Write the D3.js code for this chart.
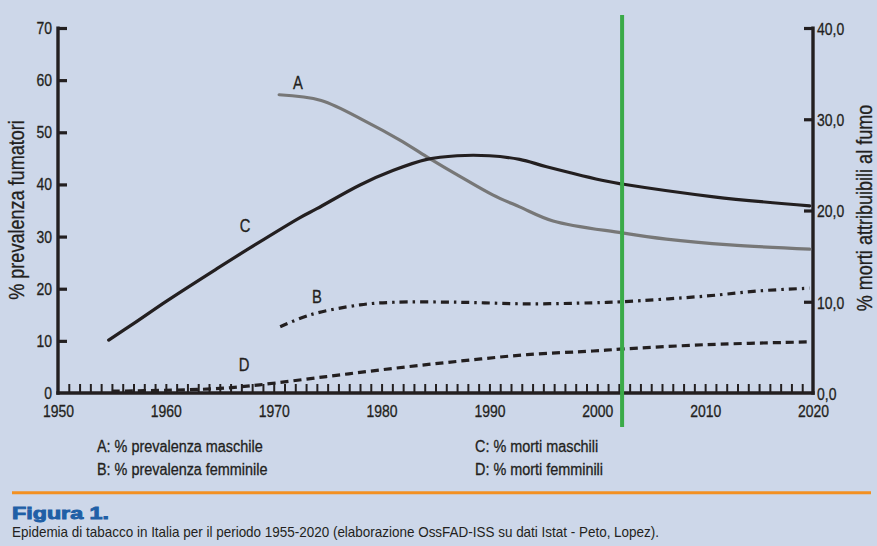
<!DOCTYPE html>
<html>
<head>
<meta charset="utf-8">
<script src="https://cdn.jsdelivr.net/npm/d3@7/dist/d3.min.js"></script>
<style>
  html, body { margin: 0; padding: 0; background: #CDD7E9; }
  svg { display: block; }
  svg text { font-family: "Liberation Sans", Arial, sans-serif; }
</style>
</head>
<body>
<svg id="chart" width="877" height="546"></svg>
<script>
// ---------- DATA ----------
const xTickYears = [1950, 1960, 1970, 1980, 1990, 2000, 2010, 2020];
const leftTicks = [0, 10, 20, 30, 40, 50, 60, 70];
const leftTickLabels = ["0", "10", "20", "30", "40", "50", "60", "70"];
const rightTicks = [0, 10, 20, 30, 40];
const rightTickLabels = ["0,0", "10,0", "20,0", "30,0", "40,0"];
const minorYears = d3.range(1951, 2020);

// A: % prevalenza maschile (left axis)
const seriesA = [[1970.5,57.2],[1974.4,56.1],[1978.6,52.0],[1981.7,48.5],[1984.2,45.3],[1987.3,41.5],[1990.3,38.0],[1992.8,35.7],[1995.9,33.0],[2002.3,30.7],[2006.4,29.5],[2012.3,28.4],[2019.7,27.6]];
// B: % prevalenza femminile (left axis)
const seriesB = [[1970.6,12.7],[1973.4,15.0],[1978,16.9],[1981.1,17.4],[1987.3,17.4],[1993.5,17.1],[1999.6,17.3],[2002.3,17.5],[2010.1,18.6],[2015.1,19.6],[2019.7,20.1]];
// C: % morti maschili (right axis)
const seriesC = [[1954.7,5.8],[1957,7.6],[1960.1,10.1],[1964.7,13.6],[1967.8,15.9],[1972.4,19.2],[1974,20.2],[1978,22.8],[1981.1,24.4],[1984.2,25.6],[1987,26.0],[1990,26.0],[1992.8,25.6],[1995.3,24.8],[2000.9,23.2],[2002.3,22.9],[2010.8,21.5],[2019.7,20.5]];
// D: % morti femminili (right axis)
const seriesD = [[1955,0.2],[1960,0.3],[1965,0.5],[1968.7,0.9],[1974.9,1.8],[1981.1,2.7],[1987.3,3.5],[1993.5,4.2],[1999.6,4.6],[2002.1,4.8],[2010.1,5.3],[2019.7,5.6]];
const markerYear = 2002.3;

const seriesLabels = ["A", "B", "C", "D"];
const legendTexts = ["A: % prevalenza maschile", "B: % prevalenza femminile", "C: % morti maschili", "D: % morti femminili"];
const leftTitle = "% prevalenza fumatori";
const rightTitle = "% morti attribuibili al fumo";
const figTitle = "Figura 1.";
const caption = "Epidemia di tabacco in Italia per il periodo 1955-2020 (elaborazione OssFAD-ISS su dati Istat - Peto, Lopez).";

// ---------- LAYOUT ----------
const ink = "#231F20";
const svg = d3.select("#chart");
svg.append("rect").attr("width", 877).attr("height", 546).attr("fill", "#CDD7E9");

// condense text horizontally (emulates a condensed typeface)
function condense(sel, f) {
  sel.each(function() {
    const w = this.getComputedTextLength();
    d3.select(this).attr("textLength", w * f).attr("lengthAdjust", "spacingAndGlyphs");
  });
}
function embolden(sel, w) {
  sel.attr("stroke", ink).attr("stroke-width", w).attr("paint-order", "stroke");
}

const x = d3.scaleLinear().domain([1950, 2020]).range([58, 813]);
const yL = d3.scaleLinear().domain([0, 70]).range([393, 28]);
const yR = d3.scaleLinear().domain([0, 40]).range([393, 28]);

// minor yearly ticks
const minor = svg.append("g").attr("transform", "translate(0,393)")
  .call(d3.axisBottom(x).tickValues(minorYears).tickSize(-9).tickFormat(""));
minor.select(".domain").remove();
minor.selectAll(".tick line").attr("stroke", ink).attr("stroke-width", 2);

// bottom labels
const bx = svg.append("g").attr("transform", "translate(0,393)")
  .call(d3.axisBottom(x).tickValues(xTickYears).tickSize(0).tickPadding(12).tickFormat(d3.format("d")));
bx.select(".domain").remove();
bx.selectAll("text").attr("font-size", 17).attr("fill", ink).attr("font-family", null)
  .call(condense, 0.82).call(embolden, 0.3);

// left axis
const la = svg.append("g").attr("transform", "translate(58,0)")
  .call(d3.axisLeft(yL).tickValues(leftTicks).tickSizeInner(-9).tickSizeOuter(0).tickPadding(6)
    .tickFormat((d, i) => leftTickLabels[i]));
la.select(".domain").remove();
la.selectAll(".tick line").attr("stroke", ink).attr("stroke-width", 3.2);
la.selectAll("text").attr("font-size", 17).attr("fill", ink).attr("font-family", null)
  .call(condense, 0.82).call(embolden, 0.3);
la.selectAll(".tick").filter(d => d === 0).select("line").remove();

// right axis
const ra = svg.append("g").attr("transform", "translate(813,0)")
  .call(d3.axisRight(yR).tickValues(rightTicks).tickSizeInner(-9).tickSizeOuter(0).tickPadding(4)
    .tickFormat((d, i) => rightTickLabels[i]));
ra.select(".domain").remove();
ra.selectAll(".tick line").attr("stroke", ink).attr("stroke-width", 3.2);
ra.selectAll("text").attr("font-size", 17).attr("fill", ink).attr("font-family", null).attr("dy", "0.38em")
  .call(condense, 0.82).call(embolden, 0.3);
ra.selectAll(".tick").filter(d => d === 0).select("line").remove();

// axis lines
svg.append("line").attr("x1", x(1950)).attr("x2", x(1950)).attr("y1", yL(70) - 1.5).attr("y2", yL(0) + 1.8)
  .attr("stroke", ink).attr("stroke-width", 3.4);
svg.append("line").attr("x1", x(2020)).attr("x2", x(2020)).attr("y1", yR(40) - 1.5).attr("y2", yR(0) + 1.8)
  .attr("stroke", ink).attr("stroke-width", 3.4);
svg.append("line").attr("x1", x(1950) - 1.7).attr("x2", x(2020) + 1.7).attr("y1", yL(0)).attr("y2", yL(0))
  .attr("stroke", ink).attr("stroke-width", 3.6);

// curves
const curve = d3.curveCatmullRom.alpha(0.5);
const lineL = d3.line().x(d => x(d[0])).y(d => yL(d[1])).curve(curve);
const lineR = d3.line().x(d => x(d[0])).y(d => yR(d[1])).curve(curve);

svg.append("path").attr("d", lineL(seriesA)).attr("fill", "none").attr("stroke", "#777777")
  .attr("stroke-width", 3.2).attr("stroke-linecap", "round");
svg.append("path").attr("d", lineR(seriesC)).attr("fill", "none").attr("stroke", ink)
  .attr("stroke-width", 3.2).attr("stroke-linecap", "round");
svg.append("path").attr("d", lineL(seriesB)).attr("fill", "none").attr("stroke", ink)
  .attr("stroke-width", 3.2).attr("stroke-dasharray", "8,5,2.5,5");
svg.append("path").attr("d", lineR(seriesD)).attr("fill", "none").attr("stroke", ink)
  .attr("stroke-width", 3.2).attr("stroke-dasharray", "8,5");

// green marker
svg.append("line").attr("x1", x(markerYear)).attr("x2", x(markerYear)).attr("y1", 15).attr("y2", 427)
  .attr("stroke", "#3AAA48").attr("stroke-width", 4);

// series letters
const letterPos = [[298, 89], [317, 303], [245, 232], [244, 371]];
svg.append("g").selectAll("text").data(seriesLabels).join("text")
  .attr("x", (d, i) => letterPos[i][0]).attr("y", (d, i) => letterPos[i][1])
  .attr("text-anchor", "middle").attr("font-size", 18).attr("fill", ink).text(d => d)
  .call(condense, 0.82).call(embolden, 0.3);

// axis titles
svg.append("text").attr("transform", "translate(24,210) rotate(-90)")
  .attr("text-anchor", "middle").attr("font-size", 22).attr("fill", ink).text(leftTitle)
  .call(condense, 0.82).call(embolden, 0.3);
svg.append("text").attr("transform", "translate(872,208) rotate(-90)")
  .attr("text-anchor", "middle").attr("font-size", 22).attr("fill", ink).text(rightTitle)
  .call(condense, 0.82).call(embolden, 0.3);

// legend
const legendPos = [[97, 452], [97, 475], [475, 452], [475, 475]];
svg.append("g").selectAll("text").data(legendTexts).join("text")
  .attr("x", (d, i) => legendPos[i][0]).attr("y", (d, i) => legendPos[i][1])
  .attr("font-size", 16).attr("fill", ink).text(d => d)
  .call(condense, 0.9).call(embolden, 0.3);

// orange rule
svg.append("line").attr("x1", 12).attr("x2", 871).attr("y1", 492.7).attr("y2", 492.7)
  .attr("stroke", "#F39021").attr("stroke-width", 3);

// figure title and caption
svg.append("text").attr("x", 12).attr("y", 519).attr("font-family", "'DejaVu Sans', sans-serif")
  .attr("font-weight", "bold").attr("font-size", 17).attr("fill", "#1F5FA6")
  .attr("stroke", "#1F5FA6").attr("stroke-width", 0.9).attr("paint-order", "stroke")
  .text(figTitle).attr("textLength", 97).attr("lengthAdjust", "spacingAndGlyphs");
const cap = svg.append("text").attr("x", 12).attr("y", 537)
  .attr("font-size", 14.5).attr("fill", ink).text(caption);
cap.attr("textLength", 647).attr("lengthAdjust", "spacingAndGlyphs");
</script>
</body>
</html>
